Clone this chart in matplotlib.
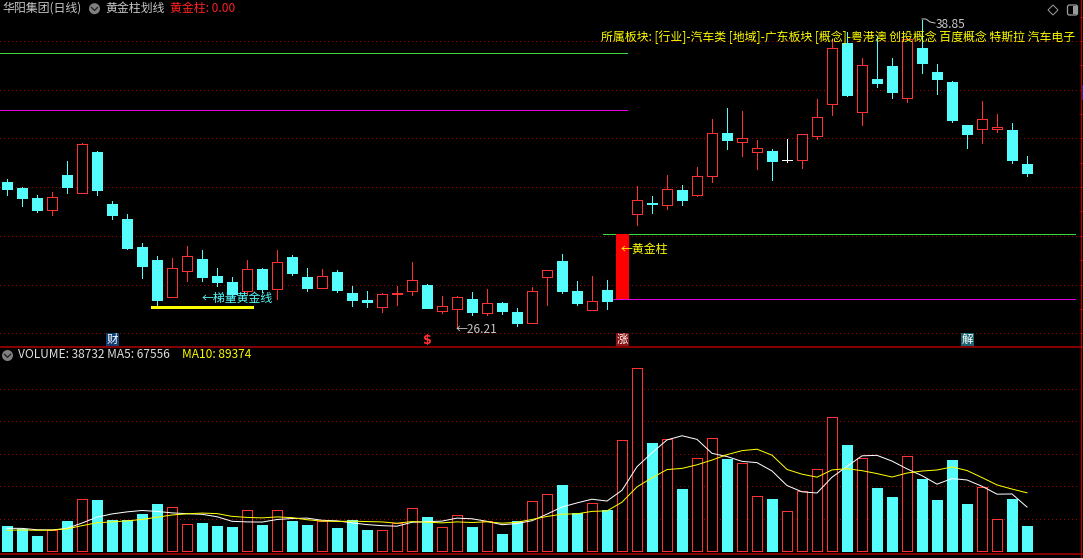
import matplotlib
matplotlib.use('Agg')
import matplotlib.pyplot as plt
from matplotlib.patches import Rectangle, Circle, Polygon, FancyBboxPatch
from matplotlib.lines import Line2D
import numpy as np
import pandas as pd

plt.rcParams['font.family'] = ['Noto Sans CJK SC', 'DejaVu Sans']

# ---------------- data ----------------
opens = [32.21, 31.96, 31.55, 31.07, 32.50, 31.77, 33.44, 31.31, 30.69, 29.54,
         29.01, 27.50, 28.57, 29.05, 28.35, 28.10, 27.73, 28.64, 27.83, 29.13,
         28.31, 27.87, 28.51, 27.65, 27.36, 27.09, 27.62, 27.75, 27.98, 26.92,
         27.01, 27.40, 26.84, 27.24, 26.87, 26.41, 28.32, 28.97, 27.73, 26.97,
         27.77, 27.40, 30.88, 31.33, 31.25, 31.88, 31.66, 32.44, 34.21, 33.84,
         33.43, 33.48, 33.10, 33.10, 34.09, 35.40, 37.92, 35.07, 36.44, 36.97,
         35.67, 37.71, 36.73, 36.32, 34.55, 34.37, 34.37, 34.35, 32.95]
closes = [31.92, 31.55, 31.06, 31.59, 32.00, 33.77, 31.88, 30.85, 29.50, 28.77,
          27.36, 28.68, 29.17, 28.32, 28.10, 27.61, 28.64, 27.82, 28.91, 28.47,
          27.87, 28.35, 27.77, 27.36, 27.30, 27.61, 27.64, 28.18, 27.05, 27.12,
          27.49, 26.88, 27.24, 26.92, 26.43, 27.73, 28.58, 27.73, 27.25, 27.32,
          27.33, 30.06, 31.46, 31.29, 31.91, 31.48, 32.44, 34.21, 33.95, 34.00,
          33.59, 33.08, 33.10, 34.17, 34.87, 37.70, 35.79, 37.00, 36.29, 35.92,
          38.07, 37.11, 36.45, 34.77, 34.19, 34.80, 34.47, 33.13, 32.59]
highs = [32.33, 32.00, 31.68, 31.80, 33.07, 33.81, 33.48, 31.43, 30.90, 29.70,
         29.17, 29.09, 29.58, 29.42, 28.68, 28.31, 29.01, 28.68, 29.42, 29.21,
         28.68, 28.64, 28.60, 27.94, 27.73, 27.65, 27.94, 28.92, 28.02, 27.53,
         27.51, 27.69, 27.82, 27.28, 27.04, 27.90, 28.60, 29.25, 28.14, 28.35,
         28.18, 30.06, 32.05, 31.63, 32.50, 32.09, 32.83, 34.80, 35.25, 35.13,
         33.93, 33.56, 33.98, 34.18, 35.62, 38.07, 38.37, 37.29, 38.21, 37.30,
         38.12, 38.85, 37.06, 36.34, 34.57, 35.54, 35.00, 34.63, 33.28]
lows = [31.68, 31.22, 30.98, 30.85, 31.76, 31.74, 31.68, 30.69, 29.46, 28.28,
        27.12, 27.49, 28.16, 28.16, 27.95, 27.49, 27.61, 27.69, 27.42, 28.40,
        27.75, 27.86, 27.70, 27.13, 27.08, 26.88, 27.16, 27.58, 27.04, 26.84,
        26.21, 26.76, 26.76, 26.80, 26.31, 26.40, 27.17, 27.66, 27.16, 26.95,
        27.01, 27.40, 30.46, 30.95, 31.11, 31.28, 31.65, 32.22, 33.58, 33.29,
        32.76, 32.29, 33.04, 32.80, 33.99, 34.97, 35.75, 34.56, 36.12, 35.67,
        35.51, 36.70, 35.84, 34.69, 33.62, 33.82, 34.28, 33.00, 32.47]
volumes = [38600, 32900, 23300, 32000, 46200, 79400, 78300, 47700, 47700, 56900,
           72200, 67200, 41200, 43100, 38600, 37000, 62600, 40100, 62600, 46200,
           40100, 46200, 35500, 47700, 32400, 32000, 42100, 65600, 52300, 36600,
           54900, 37000, 46200, 26300, 45700, 76300, 87700, 100500, 57700, 73900,
           62300, 170300, 280400, 164800, 171800, 94400, 142700, 173300, 140300, 135100,
           84600, 79100, 61700, 92300, 125900, 205500, 161700, 142700, 95900, 82200,
           145800, 109700, 77600, 138800, 71500, 97500, 49400, 79100, 38732]
prev_volumes = [27500, 29100, 27500, 29100, 29800, 33700, 33700, 33700, 34100]

gold_idx = 41
gold_top, gold_bottom = 30.06, 27.40
old_top, old_bottom = 37.51, 35.17
ladder_level = 27.08
ladder_range = (9.6, 16.4)
marker_labels = ['财', '$', '涨', '解']
marker_idx = [7, 28, 41, 64]
stock_name = '华阳集团(日线)'
indicator_name = '黄金柱划线'
indicator_value = '黄金柱: 0.00'
sector_text = '所属板块: [行业]-汽车类 [地域]-广东板块 [概念]-粤港澳 创投概念 百度概念 特斯拉 汽车电子'
vol_text = 'VOLUME: 38732 MA5: 67556'
ma10_text = 'MA10: 89374'
price_grid = [38, 36, 34, 32, 30, 28, 26]
price_ticks = [39, 38, 37, 36, 35, 34, 33, 32, 31, 30, 29, 28, 27, 26]

# ---------------- style ----------------
W, H, DPI = 1083, 558, 100
RED = '#ff3232'
CYAN = '#54fcfc'
GRID = '#a00000'
SEP = '#b00000'
LW = 72.0 / DPI  # 1 pixel in points
STEP = 15.0
PXU = 24.35      # pixels per price unit
VPX = 1530.0     # volume per pixel
AA = False

fig = plt.figure(figsize=(W / DPI, H / DPI), dpi=DPI, facecolor='black')
T = fig.dpi_scale_trans


def P(x, y):
    return (x / DPI, (H - y) / DPI)


# price panel
axp = fig.add_axes([0, (H - 347) / H, 1, 347 / H])
axp.set_xlim(-7 / STEP, (W - 7) / STEP)
axp.set_ylim(38 - (347 - 41) / PXU, 38 + 41 / PXU)
axp.axis('off')

# volume panel
axv = fig.add_axes([0, (H - 554) / H, 1, 207 / H])
axv.set_xlim(-7 / STEP, (W - 7) / STEP)
axv.set_ylim(-(554 - 551) * VPX, (551 - 347) * VPX)
axv.axis('off')

xr = (-7 / STEP, (1080 - 7) / STEP)
for p in price_grid:
    axp.plot(xr, [p, p], color=GRID, lw=LW, ls=(0, (1, 3)), zorder=1, antialiased=AA)
for p in price_ticks:
    axp.plot([(1080 - 7) / STEP, (1083 - 7) / STEP], [p, p], color=SEP, lw=LW, zorder=1,
             antialiased=AA)
for k in range(1, 6):
    v = k * 32.5 * VPX
    axv.plot(xr, [v, v], color=GRID, lw=LW, ls=(0, (1, 3)), zorder=1, antialiased=AA)

n = len(opens)
w = 10 / STEP
for i in range(n):
    o, h, l, c = opens[i], highs[i], lows[i], closes[i]
    if i == gold_idx:
        continue
    if c > o:
        axp.plot([i, i], [c, h], color=RED, lw=LW, zorder=3, antialiased=AA)
        axp.plot([i, i], [l, o], color=RED, lw=LW, zorder=3, antialiased=AA)
        axp.add_patch(Rectangle((i - w / 2, o), w, c - o, facecolor='black',
                                edgecolor=RED, lw=LW, zorder=3, antialiased=AA))
    elif c < o:
        axp.plot([i, i], [l, h], color=CYAN, lw=LW, zorder=3, antialiased=AA)
        axp.add_patch(Rectangle((i - w / 2, c), w, o - c, facecolor=CYAN,
                                edgecolor=CYAN, lw=LW, zorder=3, antialiased=AA))
    else:
        axp.plot([i, i], [l, h], color='white', lw=LW, zorder=3, antialiased=AA)
        axp.plot([i - w / 2, i + w / 2], [o, o], color='white', lw=LW, zorder=3, antialiased=AA)

# gold column
axp.add_patch(Rectangle((gold_idx + 0.033 - 6.5 / STEP, gold_bottom), 13 / STEP,
                        gold_top - gold_bottom, facecolor='#ff0000', edgecolor='none',
                        zorder=4, antialiased=AA))
# lines
axp.plot([-7 / STEP, gold_idx + 0.35], [old_top, old_top], color='#3cdc3c', lw=LW, zorder=2, antialiased=AA)
axp.plot([-7 / STEP, gold_idx + 0.35], [old_bottom, old_bottom], color='#e000e0', lw=LW, zorder=2, antialiased=AA)
axp.plot([gold_idx - 1.27, 71.2], [gold_top, gold_top], color='#3cdc3c', lw=LW, zorder=2, antialiased=AA)
axp.plot([gold_idx - 1.27, 71.2], [gold_bottom, gold_bottom], color='#e000e0', lw=LW, zorder=2, antialiased=AA)
axp.plot(ladder_range, [ladder_level, ladder_level], color='#ffff00', lw=3 * LW,
         solid_capstyle='butt', zorder=4, antialiased=AA)

# volume bars
for i in range(n):
    o, c, v = opens[i], closes[i], volumes[i]
    if c >= o:
        axv.add_patch(Rectangle((i - w / 2, 0), w, v, facecolor='black',
                                edgecolor=RED, lw=LW, zorder=3, antialiased=AA))
    else:
        axv.add_patch(Rectangle((i - w / 2, 0), w, v, facecolor=CYAN,
                                edgecolor=CYAN, lw=LW, zorder=3, antialiased=AA))
allv = pd.Series(prev_volumes + volumes, dtype=float)
ma5 = allv.rolling(5).mean().values[len(prev_volumes):]
ma10 = allv.rolling(10).mean().values[len(prev_volumes):]
xs = np.arange(n)
axv.plot(xs, ma5, color='white', lw=LW, zorder=5)
axv.plot(xs, ma10, color='#ffff00', lw=LW, zorder=5)

# separators
fig.add_artist(Line2D([0, 1], [(H - 347) / H] * 2, color=SEP, lw=LW * 1.5))
fig.add_artist(Line2D([0, 1], [(H - 554) / H] * 2, color=SEP, lw=LW * 1.5))
fig.add_artist(Line2D([1080.5 / W] * 2, [0, 1], color=SEP, lw=LW * 1.2))
fig.add_artist(Rectangle(P(1081.5, 100), 1.5 / DPI, 15 / DPI, transform=T,
                         facecolor='#2020c0', edgecolor='none'))

# markers
mstyle = {'财': ('#123f73', 'white'), '$': (None, RED), '涨': ('#8a1414', 'white'),
          '解': ('#1a6470', 'white')}
for lab, idx in zip(marker_labels, marker_idx):
    xc = 7 + STEP * idx
    bg, fg = mstyle[lab]
    if bg:
        fig.add_artist(Rectangle(P(xc - 6.5, 346), 13 / DPI, 13 / DPI, transform=T,
                                 facecolor=bg, edgecolor='none'))
        fig.text(xc / W, 1 - 339.5 / H, lab, color=fg, fontsize=8.3,
                 ha='center', va='center')
    else:
        fig.text(xc / W, 1 - 340.5 / H, lab, color=fg, fontsize=9, fontweight='bold',
                 ha='center', va='center', family='DejaVu Sans')

# annotations
fig.text(202 / W, 1 - 298 / H, '←梯量黄金线', color=CYAN, fontsize=8.6, va='center', ha='left')
fig.text(621 / W, 1 - 249 / H, '←黄金柱', color='#ffff00', fontsize=8.6, va='center', ha='left')
fig.text(456 / W, 1 - 329.5 / H, '←26.21', color='#c8c8c8', fontsize=8.6, va='center', ha='left')
fig.text(936 / W, 1 - 25 / H, '38.85', color='#c8c8c8', fontsize=8.6, va='center', ha='left')
fig.add_artist(Line2D([922 / W, 926 / W, 930 / W, 935 / W],
                      [1 - 19 / H, 1 - 19 / H, 1 - 22 / H, 1 - 23 / H], color='#c8c8c8', lw=LW))

# header
fig.text(2 / W, 1 - 8.5 / H, stock_name, color='#c8c8c8', fontsize=8.6, va='center', ha='left')
fig.add_artist(Circle(P(94.5, 8.7), 5.5 / DPI, transform=T, facecolor='#808080', edgecolor='none'))
fig.add_artist(Line2D([91.5 / W, 94.5 / W, 97.5 / W], [1 - 7.5 / H, 1 - 10.5 / H, 1 - 7.5 / H],
                      color='#202020', lw=LW * 1.3))
fig.text(105 / W, 1 - 8.5 / H, indicator_name, color='#c8c8c8', fontsize=8.6, va='center', ha='left')
fig.text(170 / W, 1 - 8.5 / H, indicator_value, color='#ff2020', fontsize=8.6, va='center', ha='left')
fig.text(601 / W, 1 - 37.5 / H, sector_text, color='#ffff00', fontsize=8.6, va='center', ha='left')

# top-right icons
fig.add_artist(Polygon([P(1053, 5), P(1058, 10), P(1053, 15), P(1048, 10)], closed=True,
                       transform=T, facecolor='none', edgecolor='#9a9a9a', lw=LW))
fig.add_artist(FancyBboxPatch(P(1067.5, 15), 10 / DPI, 10 / DPI, boxstyle='round,pad=0,rounding_size=0.02',
                              transform=T, facecolor='none', edgecolor='#9a9a9a', lw=LW * 1.3))
fig.add_artist(Rectangle(P(1072.5, 14), 4 / DPI, 8 / DPI, transform=T, facecolor='#9a9a9a',
                         edgecolor='none'))

# volume header
fig.add_artist(Circle(P(7.5, 355.5), 5.5 / DPI, transform=T, facecolor='#808080', edgecolor='none'))
fig.add_artist(Line2D([4.5 / W, 7.5 / W, 10.5 / W], [1 - 354.3 / H, 1 - 357.3 / H, 1 - 354.3 / H],
                      color='#202020', lw=LW * 1.3))
fig.text(18 / W, 1 - 355 / H, vol_text, color='#e0e0e0', fontsize=8.6, va='center', ha='left')
fig.text(182 / W, 1 - 355 / H, ma10_text, color='#ffff00', fontsize=8.6, va='center', ha='left')

fig.savefig('out.png', dpi=DPI, facecolor='black')
